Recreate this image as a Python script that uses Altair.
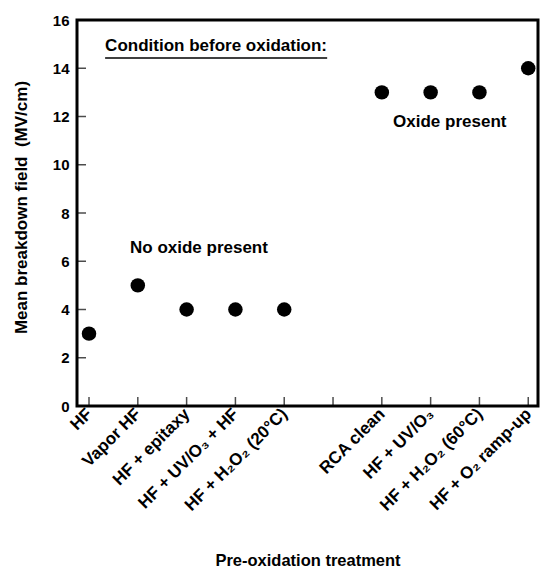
import altair as alt
import pandas as pd

# Data
positions = [1, 2, 3, 4, 5, 7, 8, 9, 10]
treatments = ["HF", "Vapor HF", "HF + epitaxy", "HF + UV/O₃ + HF", "HF + H₂O₂ (20°C)",
              "RCA clean", "HF + UV/O₃", "HF + H₂O₂ (60°C)", "HF + O₂ ramp-up"]
breakdown = [3, 5, 4, 4, 4, 13, 13, 13, 14]

tick_positions = [1, 2, 3, 4, 5, 6, 7, 8, 9, 10]
tick_labels = ["HF", "Vapor HF", "HF + epitaxy", "HF + UV/O₃ + HF", "HF + H₂O₂ (20°C)", "",
               "RCA clean", "HF + UV/O₃", "HF + H₂O₂ (60°C)", "HF + O₂ ramp-up"]
y_ticks = [0, 2, 4, 6, 8, 10, 12, 14, 16]

notes_text = ["Condition before oxidation:", "No oxide present", "Oxide present"]
notes_x = [1.33, 1.84, 7.23]
notes_y = [14.92, 6.55, 11.77]

FONT = "Liberation Sans"

df = pd.DataFrame({"pos": positions, "treatment": treatments, "field": breakdown})
xt = pd.DataFrame({"pos": tick_positions})
yt = pd.DataFrame({"v": y_ticks})
notes = pd.DataFrame({"x": notes_x, "y": notes_y, "t": notes_text})

xscale = alt.Scale(domain=[0.754, 10.2], nice=False, zero=False)
yscale = alt.Scale(domain=[0, 16], nice=False)

label_js = "[" + ",".join('"' + s + '"' for s in tick_labels) + "]"

xaxis = alt.Axis(values=tick_positions, labelExpr=label_js + "[datum.value-1]",
                 labelAngle=-45, labelAlign="right", labelBaseline="middle",
                 labelPadding=5, labelOverlap=False, labelBound=False, labelFlush=False,
                 ticks=False, domain=False, grid=False,
                 labelFont=FONT, labelFontWeight="bold", labelFontSize=17, labelColor="black",
                 title="Pre-oxidation treatment", titleFont=FONT, titleFontWeight="bold",
                 titleFontSize=16.5, titleColor="black", titleY=154, titleBaseline="middle")
yaxis = alt.Axis(values=y_ticks, ticks=False, domain=False, grid=False, labelPadding=8,
                 labelFont=FONT, labelFontWeight="bold", labelFontSize=15, labelColor="black",
                 title="Mean breakdown field\u00a0\u00a0(MV/cm)", titleFont=FONT, titleFontWeight="bold",
                 titleFontSize=17, titleColor="black", titleX=-56, titleY=187,
                 titleBaseline="middle")

points = alt.Chart(df).mark_circle(size=210, color="black", opacity=1).encode(
    x=alt.X("pos:Q", scale=xscale, axis=xaxis),
    y=alt.Y("field:Q", scale=yscale, axis=yaxis),
)

xticks = alt.Chart(xt).mark_tick(orient="vertical", size=9, thickness=1.5, color="black",
                                 yOffset=-4.5).encode(
    x=alt.X("pos:Q", scale=xscale), y=alt.datum(0, scale=yscale))
yticks = alt.Chart(yt).mark_tick(orient="horizontal", size=9, thickness=1.5, color="black",
                                 xOffset=4.5).encode(
    y=alt.Y("v:Q", scale=yscale), x=alt.datum(0.754))

texts = alt.Chart(notes).mark_text(align="left", baseline="middle", font=FONT,
                                   fontWeight="bold", fontSize=17, color="black").encode(
    x=alt.X("x:Q", scale=xscale), y=alt.Y("y:Q", scale=yscale), text="t:N")

underline = alt.Chart(pd.DataFrame({"x": [1.33], "x2": [5.88], "y": [14.42]})).mark_rule(
    color="black", strokeWidth=1.5).encode(
    x=alt.X("x:Q", scale=xscale), x2="x2:Q", y=alt.Y("y:Q", scale=yscale))

chart = alt.layer(points, xticks, yticks, texts, underline).properties(
    width=461, height=386,
    padding={"left": 77, "top": 20, "right": 2, "bottom": 163},
    autosize="none",
    background="white",
).configure_view(stroke="black", strokeWidth=3)

chart.save("out.html", embed_options={"renderer": "svg", "actions": False})
